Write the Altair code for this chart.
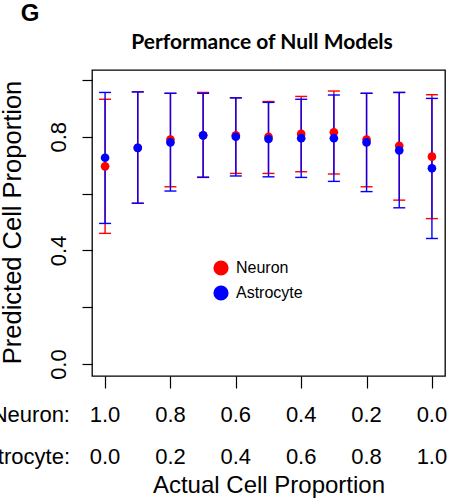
import altair as alt
import pandas as pd

# Mixture index 1..11: neuron fraction goes 1.0 -> 0.0, astrocyte 0.0 -> 1.0
mix_index = list(range(1, 12))

neuron_mean = [0.696, 0.761, 0.790, 0.805, 0.805, 0.800, 0.810, 0.816, 0.790, 0.768, 0.730]
neuron_upper = [0.932, 0.958, 0.953, 0.956, 0.937, 0.924, 0.942, 0.961, 0.953, 0.956, 0.948]
neuron_lower = [0.460, 0.566, 0.624, 0.658, 0.671, 0.671, 0.677, 0.669, 0.624, 0.577, 0.512]

astro_mean = [0.726, 0.761, 0.780, 0.805, 0.800, 0.792, 0.795, 0.795, 0.780, 0.752, 0.689]
astro_upper = [0.956, 0.958, 0.953, 0.953, 0.937, 0.921, 0.932, 0.947, 0.953, 0.956, 0.935]
astro_lower = [0.495, 0.566, 0.609, 0.657, 0.662, 0.659, 0.657, 0.643, 0.607, 0.550, 0.442]

series_names = ["Neuron", "Astrocyte"]
series_colors = ["#ff0000", "#0000ff"]

# x tick labels, two rows
label_positions = [1, 3, 5, 7, 9, 11]
neuron_tick_labels = ["1.0", "0.8", "0.6", "0.4", "0.2", "0.0"]
astro_tick_labels = ["0.0", "0.2", "0.4", "0.6", "0.8", "1.0"]

y_tick_values = [0.0, 0.2, 0.4, 0.6, 0.8, 1.0]
y_labelled = ["0.0", "0.4", "0.8"]

FONT = "Liberation Sans"

rows = []
for name, m, lo, hi in [
    ("Neuron", neuron_mean, neuron_lower, neuron_upper),
    ("Astrocyte", astro_mean, astro_lower, astro_upper),
]:
    for i, a, b, c in zip(mix_index, m, lo, hi):
        rows.append({"idx": i, "series": name, "mean": a, "lower": b, "upper": c})
df = pd.DataFrame(rows)

labels_df = pd.DataFrame(
    {"idx": label_positions, "neuron": neuron_tick_labels, "astro": astro_tick_labels}
)

x_scale = alt.Scale(domain=[0.6, 11.4], nice=False, zero=False)
y_scale = alt.Scale(domain=[-0.042, 1.035], nice=False, zero=False)

label_list = "[" + ",".join(f"'{s}'" for s in y_labelled) + "]"
y_axis = alt.Axis(
    values=y_tick_values,
    labelExpr=f"indexof({label_list}, format(datum.value, '.1f')) >= 0 ? format(datum.value, '.1f') : ''",
    labelAngle=-90,
    labelAlign="center",
    labelBaseline="bottom",
    labelFontSize=22,
    labelFont=FONT,
    labelColor="black",
    labelPadding=12,
    tickSize=10,
    tickColor="black",
    tickWidth=1.2,
    domain=False,
    grid=False,
    title="Predicted Cell Proportion",
    titleFont=FONT,
    titleFontSize=25.5,
    titleFontWeight="normal",
    titleColor="black",
    titleX=-80,
    titleY=152,
    titleBaseline="middle",
)

x_axis = alt.Axis(
    values=label_positions,
    labels=False,
    tickSize=12,
    tickColor="black",
    tickWidth=1.2,
    domain=False,
    grid=False,
    title="Actual Cell Proportion",
    titleFont=FONT,
    titleFontSize=24,
    titleFontWeight="normal",
    titleColor="black",
    titleY=109,
    titleBaseline="middle",
)

base = alt.Chart(df)


def bars(name, color, opacity):
    sub = base.transform_filter(alt.datum.series == name)
    rule = sub.mark_rule(color=color, strokeWidth=1.4, opacity=opacity).encode(
        x=alt.X("idx:Q", scale=x_scale, axis=x_axis),
        y=alt.Y("lower:Q", scale=y_scale, axis=y_axis),
        y2="upper:Q",
    )
    cap_lo = sub.mark_tick(color=color, orient="horizontal", size=12, thickness=1.4, opacity=opacity).encode(
        x=alt.X("idx:Q", scale=x_scale), y=alt.Y("lower:Q", scale=y_scale)
    )
    cap_hi = sub.mark_tick(color=color, orient="horizontal", size=12, thickness=1.4, opacity=opacity).encode(
        x=alt.X("idx:Q", scale=x_scale), y=alt.Y("upper:Q", scale=y_scale)
    )
    return rule + cap_lo + cap_hi


points = base.mark_circle(size=75, opacity=1).encode(
    x=alt.X("idx:Q", scale=x_scale),
    y=alt.Y("mean:Q", scale=y_scale),
    color=alt.Color(
        "series:N",
        scale=alt.Scale(domain=series_names, range=series_colors),
        legend=alt.Legend(
            title=None,
            orient="none",
            legendX=121,
            legendY=190,
            symbolType="circle",
            symbolSize=230,
            symbolStrokeWidth=0,
            labelFont=FONT,
            labelFontSize=16,
            labelColor="black",
            rowPadding=9,
            padding=0,
            labelOffset=7,
        ),
    ),
    order=alt.Order("series_order:Q"),
).transform_calculate(series_order="datum.series == 'Neuron' ? 0 : 1")

row1 = alt.Chart(labels_df).mark_text(font=FONT, fontSize=22, baseline="middle").encode(
    x=alt.X("idx:Q", scale=x_scale), y=alt.value(345), text="neuron:N"
)
row2 = alt.Chart(labels_df).mark_text(font=FONT, fontSize=22, baseline="middle").encode(
    x=alt.X("idx:Q", scale=x_scale), y=alt.value(387), text="astro:N"
)
row_heads = alt.Chart(pd.DataFrame({"t": ["Neuron:", "Astrocyte:"], "y": [345, 387]})).mark_text(
    font=FONT, fontSize=22, align="right", baseline="middle"
).encode(x=alt.value(-22), y=alt.Y("y:Q", scale=None), text="t:N")

title = alt.Chart(pd.DataFrame({"t": ["Performance of Null Models"]})).mark_text(
    font="Lato", fontSize=21, fontWeight="bold", align="center", baseline="middle"
).encode(x=alt.value(170), y=alt.value(-27), text="t:N")

panel = alt.Chart(pd.DataFrame({"t": ["G"]})).mark_text(
    font=FONT, fontSize=24, fontWeight="bold", align="center", baseline="middle"
).encode(x=alt.value(-62), y=alt.value(-56), text="t:N")

chart = alt.layer(
    bars("Neuron", series_colors[0], 1.0),
    bars("Astrocyte", series_colors[1], 1.0),
    points,
    row1,
    row2,
    row_heads,
    title,
    panel,
).properties(
    width=353,
    height=306,
    autosize=alt.AutoSizeParams(type="none"),
    padding={"left": 92, "top": 70, "right": 6, "bottom": 123},
    background="white",
).configure_view(stroke="black", strokeWidth=1.3)

chart.save("out.html", embed_options={"renderer": "svg", "actions": False})
